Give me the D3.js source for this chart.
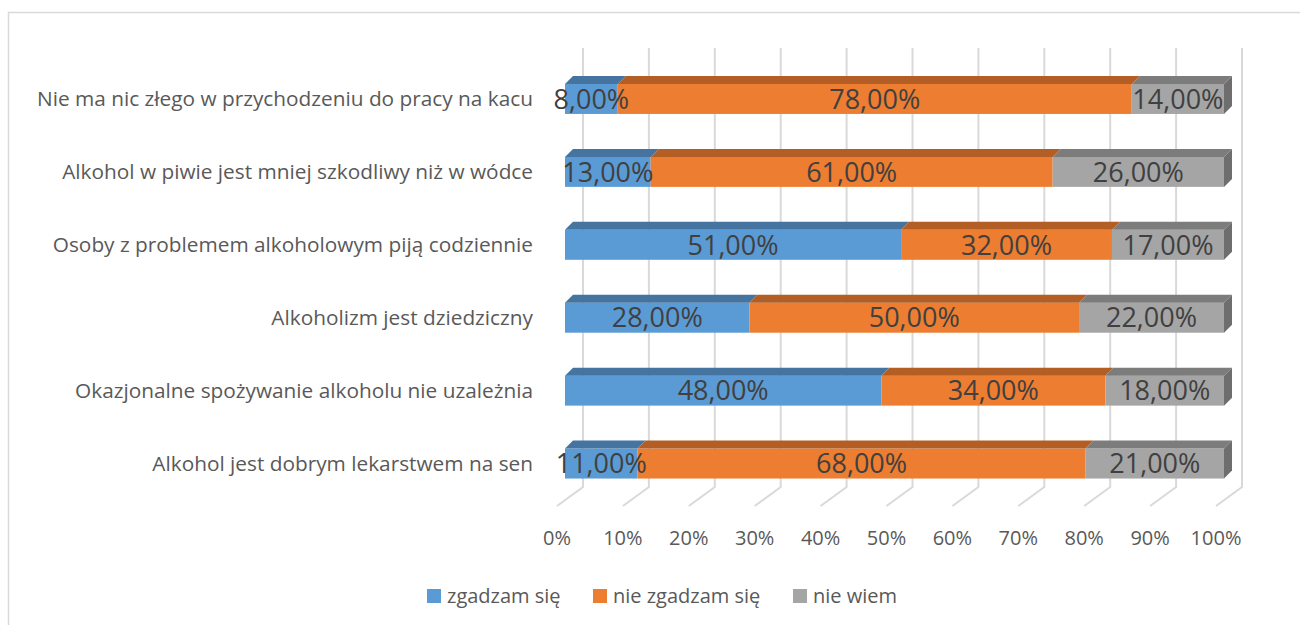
<!DOCTYPE html>
<html lang="pl">
<head>
  <meta charset="UTF-8">
  <title>Alkohol - opinie</title>
  <style>
    body { margin: 0; background: #fff; }
    svg text { font-family: "Open Sans", sans-serif; }
  </style>
</head>
<body>
  <script src="https://d3js.org/d3.v7.min.js"></script>
  <script>
    const width = 1300;
    const height = 625;

    // data (top row first)
    const categories = [
      'Nie ma nic złego w przychodzeniu do pracy na kacu',
      'Alkohol w piwie jest mniej szkodliwy niż w wódce',
      'Osoby z problemem alkoholowym piją codziennie',
      'Alkoholizm jest dziedziczny',
      'Okazjonalne spożywanie alkoholu nie uzależnia',
      'Alkohol jest dobrym lekarstwem na sen'
    ];
    const seriesNames = ['zgadzam się', 'nie zgadzam się', 'nie wiem'];
    const zgadzam = [8, 13, 51, 28, 48, 11];
    const nieZgadzam = [78, 61, 32, 50, 34, 68];
    const nieWiem = [14, 26, 17, 22, 18, 21];
    const ticks = [0, 10, 20, 30, 40, 50, 60, 70, 80, 90, 100];

    const colors = ['#5b9bd5', '#ed7d31', '#a5a5a5'];
    const topColors = ['#44749f', '#b35e25', '#7c7c7c'];
    const sideColor = '#6e6e6e';

    const rows = categories.map((c, i) => ({
      cat: c,
      vals: [zgadzam[i], nieZgadzam[i], nieWiem[i]]
    }));

    const svg = d3.select('body')
      .append('svg')
      .attr('width', width)
      .attr('height', height)

    // chart frame (only top and left edges visible)
    svg.append('path')
      .attr('d', 'M8.5,625 L8.5,12.5 L1300,12.5')
      .attr('fill', 'none')
      .attr('stroke', '#d9d9d9')
      .attr('stroke-width', 1.5)

    // bar front plane, back wall and floor front edge
    const x = d3.scaleLinear().domain([0, 100]).range([565, 1224]);
    const xBack = d3.scaleLinear().domain([0, 100]).range([583, 1242]);
    const xFront = d3.scaleLinear().domain([0, 100]).range([557, 1216]);
    const y = d3.scalePoint().domain(categories).range([62.5, 500]).padding(0.5);

    const wallTop = 48, wallBottom = 487, floorFront = 506;
    const barH = 30, dx = 8, dy = 8;

    // gridlines on back wall + floor
    const grid = svg.append('g')
      .attr('fill', 'none')
      .attr('stroke', '#d9d9d9')
      .attr('stroke-width', 2)
    grid.selectAll('path')
      .data(ticks)
      .join('path')
      .attr('d', t => `M${xBack(t)},${wallTop} L${xBack(t)},${wallBottom} L${xFront(t)},${floorFront}`)

    // tick labels
    svg.append('g')
      .selectAll('text')
      .data(ticks)
      .join('text')
      .attr('x', t => xFront(t))
      .attr('y', 545)
      .attr('text-anchor', 'middle')
      .attr('font-size', 20)
      .attr('fill', '#595959')
      .text(t => t + '%')

    // bars
    const bars = svg.append('g')
    rows.forEach(r => {
      const yt = y(r.cat) - barH / 2;
      const yb = yt + barH;
      let acc = 0;
      const segs = r.vals.map((v, k) => {
        const s = { k, v, x0: x(acc), x1: x(acc + v) };
        acc += v;
        return s;
      });
      const g = bars.append('g')
      segs.forEach(s => {
        g.append('rect')
          .attr('x', s.x0)
          .attr('y', yt)
          .attr('width', s.x1 - s.x0)
          .attr('height', barH)
          .attr('fill', colors[s.k])
        g.append('path')
          .attr('d', `M${s.x0},${yt} L${s.x0 + dx},${yt - dy} L${s.x1 + dx},${yt - dy} L${s.x1},${yt} Z`)
          .attr('fill', topColors[s.k])
      })
      const last = segs[segs.length - 1];
      g.append('path')
        .attr('d', `M${last.x1},${yt} L${last.x1 + dx},${yt - dy} L${last.x1 + dx},${yb - dy} L${last.x1},${yb} Z`)
        .attr('fill', sideColor)
      segs.forEach(s => {
        g.append('text')
          .attr('x', (s.x0 + s.x1) / 2)
          .attr('y', y(r.cat))
          .attr('dy', '0.36em')
          .attr('text-anchor', 'middle')
          .attr('font-size', 27)
          .attr('fill', '#404040')
          .text(s.v.toFixed(2).replace('.', ',') + '%')
      })
    })

    // category labels
    svg.append('g')
      .selectAll('text')
      .data(categories)
      .join('text')
      .attr('x', 533)
      .attr('y', d => y(d))
      .attr('dy', '0.36em')
      .attr('text-anchor', 'end')
      .attr('font-size', 20.8)
      .attr('fill', '#595959')
      .text(d => d)

    // legend
    const legendX = [427, 593, 793];
    const legend = svg.append('g')
      .selectAll('g')
      .data(seriesNames)
      .join('g')
      .attr('transform', (d, i) => `translate(${legendX[i]},589)`)
    legend.append('rect')
      .attr('width', 14)
      .attr('height', 14)
      .attr('fill', (d, i) => colors[i])
    legend.append('text')
      .attr('x', 20)
      .attr('y', 7)
      .attr('dy', '0.36em')
      .attr('font-size', 20)
      .attr('fill', '#595959')
      .text(d => d)
  </script>
</body>
</html>
